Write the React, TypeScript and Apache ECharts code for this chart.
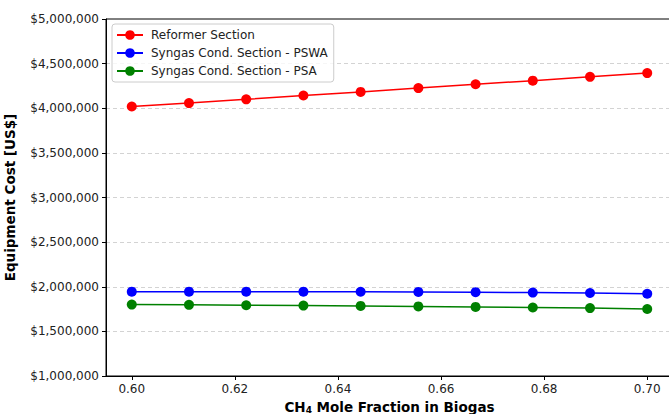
import React, { useEffect, useRef } from "react";
import * as echarts from "echarts";

const xValues = [0.6, 0.6111, 0.6222, 0.6333, 0.6444, 0.6556, 0.6667, 0.6778, 0.6889, 0.7];
const reformer = [4020000, 4058000, 4100000, 4143000, 4183000, 4226000, 4269000, 4309000, 4352000, 4394000];
const pswa = [1945000, 1945000, 1945000, 1945000, 1944000, 1942000, 1939000, 1935000, 1930000, 1922000];
const psa = [1800000, 1797000, 1793000, 1789000, 1785000, 1780000, 1774000, 1768000, 1761000, 1751000];
const xTicks = [0.6, 0.62, 0.64, 0.66, 0.68, 0.7];
const seriesNames = ["Reformer Section", "Syngas Cond. Section - PSWA", "Syngas Cond. Section - PSA"];
const seriesColors = ["#ff0000", "#0000ff", "#008000"];

const FONT = "DejaVu Sans";

export default function App() {
  const ref = useRef<HTMLDivElement>(null);
  useEffect(() => {
    const chart = echarts.init(ref.current!, null, { renderer: "svg" });
    const datasets = [reformer, pswa, psa];
    chart.setOption({
      animation: false,
      textStyle: { fontFamily: FONT },
      grid: {
        left: 106,
        top: 19,
        right: -4,
        bottom: 38,
        outerBoundsMode: "none",
        containLabel: false,
        show: true,
        borderColor: "#000",
        borderWidth: 1,
        backgroundColor: "transparent",
      },
      legend: {
        orient: "vertical",
        left: 112,
        top: 24,
        padding: [5, 6, 5, 4],
        itemGap: 6,
        itemWidth: 26,
        itemHeight: 12,
        borderColor: "#cccccc",
        borderWidth: 1,
        borderRadius: 3,
        backgroundColor: "rgba(255,255,255,0.8)",
        textStyle: { fontFamily: FONT, fontSize: 12, color: "#222", padding: [0, 0, 0, 3] },
        data: seriesNames,
      },
      xAxis: {
        type: "value",
        min: 0.595,
        max: 0.705,
        name: "{a|CH}{s|4}{a| Mole Fraction in Biogas}",
        nameLocation: "middle",
        nameGap: 22,
        nameTextStyle: {
          rich: {
            a: { fontFamily: FONT, fontSize: 13.5, fontWeight: "bold", color: "#000" },
            s: { fontFamily: FONT, fontSize: 9, fontWeight: "bold", color: "#000", verticalAlign: "bottom", padding: [6, 0, 0, 0] },
          },
        },
        axisLine: { show: true, lineStyle: { color: "#000", width: 1 } },
        axisTick: { show: true, length: 4, lineStyle: { color: "#000" }, customValues: xTicks },
        axisLabel: {
          color: "#222",
          fontSize: 12,
          fontFamily: FONT,
          margin: 7,
          customValues: xTicks,
          formatter: (v: number) => v.toFixed(2),
        },
        splitLine: { show: false },
      },
      yAxis: {
        type: "value",
        min: 1000000,
        max: 5000000,
        interval: 500000,
        name: "Equipment Cost [US$]",
        nameLocation: "middle",
        nameGap: 89,
        nameTextStyle: { fontFamily: FONT, fontSize: 13.5, fontWeight: "bold", color: "#000" },
        axisLine: { show: true, lineStyle: { color: "#000", width: 1 } },
        axisTick: { show: true, length: 4, lineStyle: { color: "#000" } },
        axisLabel: {
          color: "#222",
          fontSize: 12,
          fontFamily: FONT,
          margin: 7,
          formatter: (v: number) => "$" + Math.round(v).toLocaleString("en-US"),
        },
        splitLine: {
          show: true,
          showMinLine: false,
          showMaxLine: false,
          lineStyle: { color: "#c8c8c8", type: [4, 3], width: 0.8 },
        },
      },
      series: datasets.map((d, i) => ({
        name: seriesNames[i],
        type: "line",
        data: d.map((v, j) => [xValues[j], v]),
        symbol: "circle",
        symbolSize: 10,
        itemStyle: { color: seriesColors[i] },
        lineStyle: { color: seriesColors[i], width: 1.5 },
      })),
    });
    return () => chart.dispose();
  }, []);
  return <div ref={ref} style={{ width: 669, height: 414, position: "fixed", left: 0, top: 0, background: "#fff" }} />;
}
